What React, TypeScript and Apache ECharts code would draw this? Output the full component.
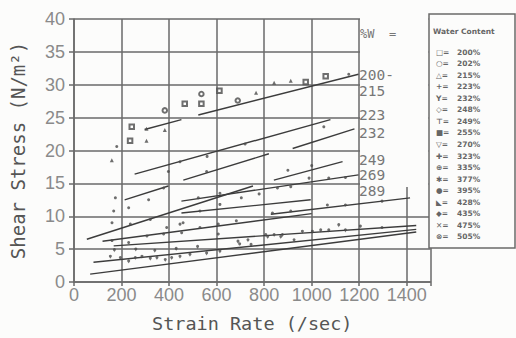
import React, { useEffect, useRef } from "react";
import * as echarts from "echarts";

// ---------- data ----------
const xTickMax = 1500;
const yTickMax = 40;

const waterLabels = ["200-", "215", "223", "232", "249", "269", "289"];
const waterLabelY = [75, 91, 115, 133, 160, 175, 191];

const legendTitle = "Water Content";
const legendSymbols = ["□", "○", "△", "+", "Y", "◇", "⊤", "■", "▽", "✚", "⊕", "✱", "●", "◣", "◆", "✕", "⊗"];
const legendValues = ["200%", "202%", "215%", "223%", "232%", "248%", "249%", "255%", "270%", "323%", "335%", "377%", "395%", "428%", "435%", "475%", "505%"];

// fitted lines, each [[x0, y0], [x1, y1]]
const fitLinesUpper = [
  [[523, 25.4], [1197, 31.6]],
  [[297, 23.2], [452, 24.7]],
  [[255, 16.4], [1079, 24.7]],
  [[920, 20.3], [1180, 23.3]],
  [[460, 15.5], [820, 19.5]],
  [[841, 15.5], [1130, 18.3]],
];
const fitLinesMiddle = [
  [[213, 12.5], [397, 14.6]],
  [[54, 6.5], [753, 14.6]],
  [[452, 12.3], [1197, 16.3]],
  [[452, 10.5], [996, 12.5]],
  [[828, 10.3], [1414, 12.8]],
];
const fitLinesLower = [
  [[120, 6.2], [1000, 10.4]],
  [[167, 5.5], [1440, 8.6]],
  [[82, 3.0], [1440, 8.0]],
  [[68, 1.2], [1440, 7.6]],
];

const pointsSquare = [
  [243, 23.6], [236, 21.5], [466, 27.1], [536, 27.1], [612, 29.1], [975, 30.4], [1059, 31.3],
];
const pointsCircle = [[382, 26.1], [536, 28.6], [689, 27.6]];
const pointsTriangle = [
  [305, 23.3], [305, 21.5], [382, 23.1], [842, 30.3], [912, 30.6], [766, 28.8], [159, 18.5],
];
const pointsDot = [
  [1156, 31.6], [1051, 23.6], [180, 20.6],
  [174, 12.8], [230, 11.3], [314, 12.5], [377, 14.3], [167, 10.8], [397, 16.8], [446, 18.3],
  [558, 16.8], [523, 12.8], [614, 13.5], [704, 12.8], [530, 10.8], [614, 11.8], [160, 9.0],
  [237, 8.8], [321, 9.5], [390, 8.3], [446, 8.8], [530, 8.3], [607, 8.8], [683, 9.3],
  [160, 6.3], [230, 6.0], [307, 7.0], [377, 7.3], [453, 7.5], [607, 7.3], [697, 5.8],
  [779, 13.4], [856, 14.3], [912, 14.5], [835, 10.5], [912, 10.8], [459, 9.0],
  [989, 15.8], [1072, 15.8], [1142, 15.9], [1066, 11.7], [1142, 11.7], [1296, 12.3],
  [1205, 8.5], [1296, 8.3], [560, 19.1], [720, 21.0], [900, 17.0], [1000, 17.7],
];
const pointsCurl = [
  [153, 3.5], [195, 3.3], [230, 2.8], [258, 3.3], [286, 3.5], [321, 3.2], [349, 3.3],
  [384, 3.0], [411, 3.3], [446, 3.5], [488, 3.8], [558, 4.0], [614, 4.3], [690, 5.8],
  [732, 6.0], [745, 5.3], [807, 6.8], [842, 6.8], [877, 6.8], [961, 7.3], [1003, 7.3],
  [1038, 7.5], [1072, 7.5], [1114, 8.3], [1142, 7.5], [815, 6.5], [870, 6.5], [926, 6.0],
  [170, 4.5], [260, 4.6], [340, 4.4], [430, 4.7], [520, 5.0],
];

// ---------- styles ----------
const BG = "#fcfcfb";
const GRID = "#6a6a6a";
const INK = "#3c3c3c";
const LABEL = "#8a8a8a";
const MONO = "DejaVu Sans Mono";

export default function App() {
  const ref = useRef<HTMLDivElement>(null);

  useEffect(() => {
    const chart = echarts.init(ref.current!, null, { renderer: "svg" });

    const lineSeries = [...fitLinesUpper, ...fitLinesMiddle, ...fitLinesLower].map((seg) => ({
      type: "line",
      data: seg,
      symbol: "none",
      silent: true,
      z: 3,
      lineStyle: { color: INK, width: 1.4 },
    }));

    const scatter = (data: number[][], symbol: string, size: number, extra: any = {}) => ({
      type: "scatter",
      data,
      symbol,
      symbolSize: size,
      z: 4,
      itemStyle: { color: "#4a4a4a", borderWidth: 1, ...extra },
    });

    const graphic: any[] = [
      // blank the grid in the upper-right label zone
      { type: "rect", z: 1, shape: { x: 360, y: 15, width: 68.5, height: 172 }, style: { fill: BG } },
      // legend box
      { type: "rect", z: 5, shape: { x: 429, y: 14, width: 86, height: 234 }, style: { fill: BG, stroke: GRID, lineWidth: 1.5 } },
      {
        type: "text", z: 6, x: 433, y: 31,
        style: { text: legendTitle, fontSize: 7.5, fontWeight: "bold", fill: "#666", fontFamily: "DejaVu Sans", verticalAlign: "middle" },
      },
      {
        type: "text", z: 6, x: 360, y: 34,
        style: { text: "%W  =", fontSize: 12, fill: "#777", fontFamily: MONO, verticalAlign: "middle" },
      },
    ];
    waterLabels.forEach((t, i) => {
      graphic.push({
        type: "text", z: 6, x: 359, y: waterLabelY[i],
        style: { text: t, fontSize: 14.5, lineHeight: 13, fill: "#777", fontFamily: MONO, verticalAlign: "middle" },
      });
    });
    legendValues.forEach((v, i) => {
      const y = 52 + i * 11.56;
      graphic.push({
        type: "text", z: 6, x: 436, y,
        style: { text: legendSymbols[i] + "=", fontSize: 7.5, lineHeight: 9, fontWeight: "bold", fill: "#666", fontFamily: "DejaVu Sans", verticalAlign: "middle" },
      });
      graphic.push({
        type: "text", z: 6, x: 457, y,
        style: { text: v, fontSize: 7.5, lineHeight: 9, fontWeight: "bold", fill: "#666", fontFamily: "DejaVu Sans", verticalAlign: "middle" },
      });
    });

    chart.setOption({
      animation: false,
      backgroundColor: BG,
      grid: { left: 72, top: 19, width: 358.5, height: 266, containLabel: false },
      xAxis: {
        type: "value",
        min: 0,
        max: xTickMax,
        interval: 200,
        name: "Strain Rate (/sec)",
        nameLocation: "middle",
        nameGap: 32,
        nameTextStyle: { fontFamily: MONO, fontSize: 18.5, color: "#555" },
        axisLine: { show: true, lineStyle: { color: GRID, width: 1.5 } },
        axisTick: { show: true, length: 4, lineStyle: { color: GRID, width: 1.5 } },
        splitLine: { show: true, lineStyle: { color: GRID, width: 1.5 } },
        axisLabel: {
          margin: 4,
          fontFamily: "Liberation Sans",
          fontSize: 18,
          color: LABEL,
          formatter: (v: number) => (v === xTickMax ? "" : String(v)),
        },
      },
      yAxis: {
        type: "value",
        min: 0,
        max: yTickMax,
        interval: 5,
        name: "Shear Stress (N/m²)",
        nameLocation: "middle",
        nameGap: 47,
        nameTextStyle: { fontFamily: MONO, fontSize: 19, color: "#555" },
        axisLine: { show: true, lineStyle: { color: GRID, width: 1.5 } },
        axisTick: { show: true, length: 5, lineStyle: { color: GRID, width: 1.5 } },
        splitLine: { show: true, lineStyle: { color: GRID, width: 1.5 } },
        axisLabel: { margin: 9, fontFamily: "Liberation Sans", fontSize: 18, color: LABEL },
      },
      series: [
        ...lineSeries,
        scatter(pointsSquare, "emptyRect", 4.5),
        scatter(pointsCircle, "emptyCircle", 4.5),
        scatter(pointsTriangle, "triangle", 4),
        scatter(pointsDot, "circle", 3),
        scatter(pointsCurl, "pin", 5),
      ],
      graphic,
    });

    return () => chart.dispose();
  }, []);

  return <div ref={ref} style={{ position: "fixed", left: 0, top: 0, width: 516, height: 338 }} />;
}
